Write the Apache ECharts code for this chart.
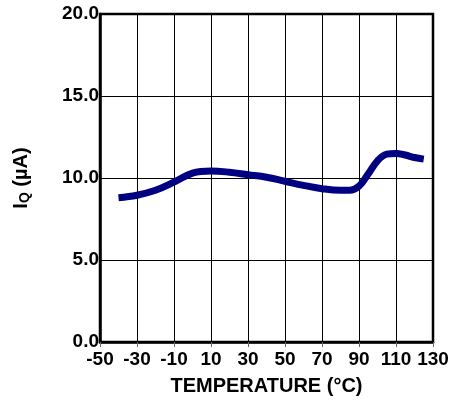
<!DOCTYPE html>
<html>
<head>
<meta charset="utf-8">
<script src="https://cdn.jsdelivr.net/npm/echarts@6/dist/echarts.min.js"></script>
<style>
html,body{margin:0;padding:0;background:#fff;}
#c{width:453px;height:405px;}
</style>
</head>
<body>
<div id="c"></div>
<script>
const temperatures = [-40, -30, -20, -10, 0, 10, 20, 30, 40, 50, 60, 70, 80, 85, 90, 95, 100, 105, 110, 115, 120, 125];
const iqValues = [8.8, 8.95, 9.25, 9.75, 10.3, 10.43, 10.35, 10.2, 10.05, 9.8, 9.55, 9.35, 9.25, 9.25, 9.5, 10.25, 11.05, 11.45, 11.5, 11.4, 11.25, 11.15];
const xTicks = [-50, -30, -10, 10, 30, 50, 70, 90, 110, 130];
const yTicks = [0, 5, 10, 15, 20];

const font = 'Liberation Sans, Arial, sans-serif';
const chart = echarts.init(document.getElementById('c'));
chart.setOption({
  animation: false,
  grid: {left: 100, right: 20, top: 14, bottom: 63, show: true, borderColor: '#000', borderWidth: 2.5, backgroundColor: 'transparent'},
  xAxis: {
    type: 'value', min: xTicks[0], max: xTicks[xTicks.length - 1], interval: 20,
    name: 'TEMPERATURE (°C)', nameLocation: 'middle', nameGap: 34,
    nameTextStyle: {fontFamily: font, fontWeight: 'bold', fontSize: 20, color: '#000'},
    axisLine: {show: true, onZero: false, lineStyle: {color: '#000', width: 2.5}},
    axisTick: {show: true, length: 5, lineStyle: {color: '#666', width: 1}},
    axisLabel: {margin: 8, fontFamily: font, fontWeight: 'bold', fontSize: 19, color: '#000'},
    splitLine: {show: true, lineStyle: {color: '#000', width: 1}}
  },
  yAxis: {
    type: 'value', min: yTicks[0], max: yTicks[yTicks.length - 1], interval: 5,
    name: '{a|I}{b|Q}{a| (µA)}', nameLocation: 'middle', nameGap: 68,
    nameTextStyle: {
      fontFamily: font, fontWeight: 'bold', fontSize: 20, color: '#000',
      rich: {
        a: {fontFamily: font, fontWeight: 'bold', fontSize: 20, color: '#000'},
        b: {fontFamily: font, fontWeight: 'bold', fontSize: 14, color: '#000', padding: [8, 0, 0, 0]}
      }
    },
    axisLine: {show: true, onZero: false, lineStyle: {color: '#000', width: 2.5}},
    axisTick: {show: false},
    axisLabel: {margin: 1, fontFamily: font, fontWeight: 'bold', fontSize: 19, color: '#000',
      formatter: v => v.toFixed(1)},
    splitLine: {show: true, lineStyle: {color: '#000', width: 1}}
  },
  series: [{
    type: 'line', smooth: 0.4, showSymbol: false,
    data: temperatures.map((t, i) => [t, iqValues[i]]),
    lineStyle: {color: '#000080', width: 7, cap: 'butt'}
  }]
});
</script>
</body>
</html>
